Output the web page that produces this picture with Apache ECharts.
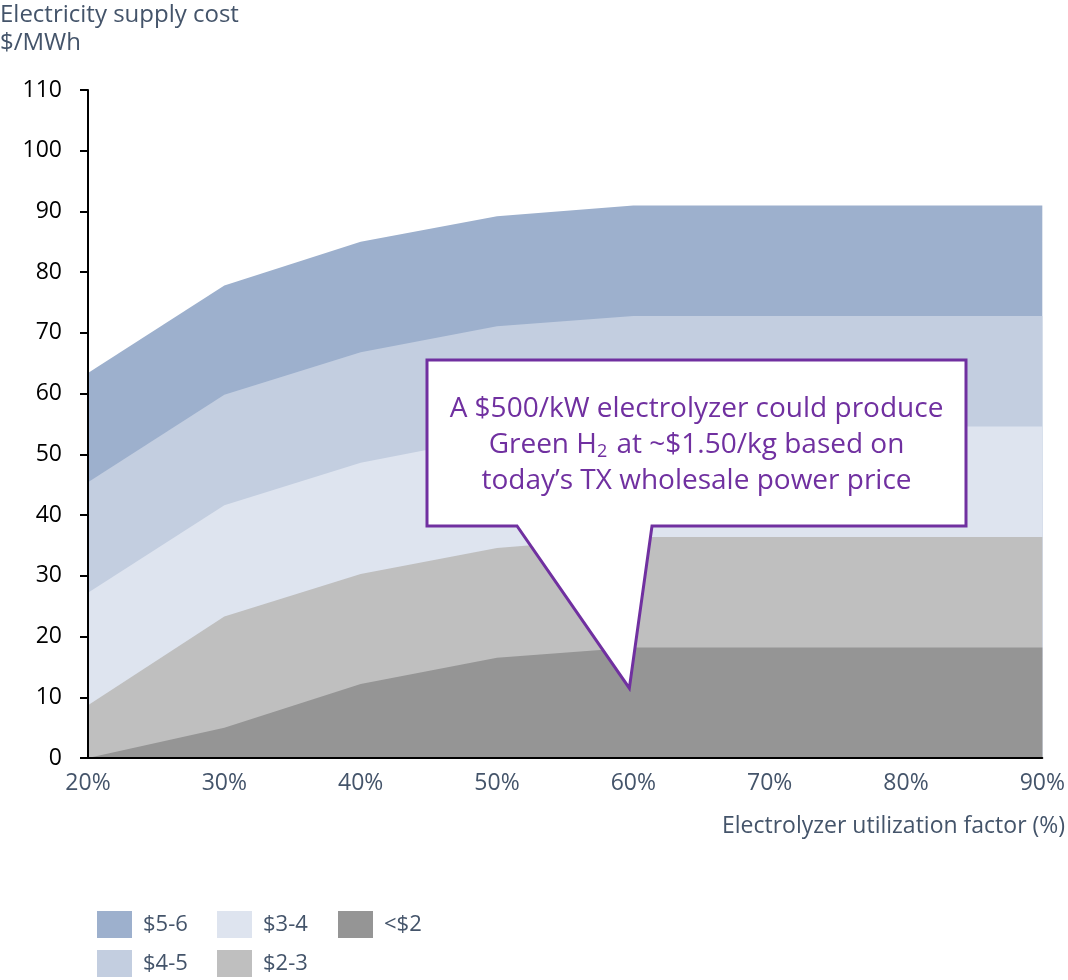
<!DOCTYPE html>
<html>
<head>
<meta charset="utf-8">
<script src="https://cdn.jsdelivr.net/npm/echarts@6/dist/echarts.min.js"></script>
<style>
  html, body { margin: 0; padding: 0; background: #fff; }
  #chart { width: 1068px; height: 980px; }
</style>
</head>
<body>
<div id="chart"></div>
<script>
// utilization factor categories
var xLabels = ['20%', '30%', '40%', '50%', '60%', '70%', '80%', '90%'];
// top edge of each cost band ($/MWh)
var band56 = [63.4, 77.8, 85.0, 89.2, 91.0, 91.0, 91.0, 91.0];
var band45 = [45.4, 59.8, 66.8, 71.1, 72.8, 72.8, 72.8, 72.8];
var band34 = [27.2, 41.6, 48.6, 53.0, 54.6, 54.6, 54.6, 54.6];
var band23 = [8.7, 23.3, 30.3, 34.6, 36.4, 36.4, 36.4, 36.4];
var bandLt2 = [0, 5.0, 12.2, 16.5, 18.2, 18.2, 18.2, 18.2];
var calloutTip = ['60%', 11.5];

var font = '"Open Sans", sans-serif';
var textGrey = '#44546A';
var purple = '#7030A0';

var myChart = echarts.init(document.getElementById('chart'));

function band(name, data, color) {
  return {
    name: name,
    type: 'line',
    data: data,
    symbol: 'none',
    itemStyle: { color: color },
    lineStyle: { width: 0, opacity: 0 },
    areaStyle: { color: color, opacity: 1, origin: 'start' },
    emphasis: { disabled: true }
  };
}

function legendCol(left, names) {
  return {
    orient: 'vertical',
    left: left,
    top: 911,
    padding: 0,
    icon: 'rect',
    itemWidth: 35,
    itemHeight: 27,
    itemGap: 12,
    selectedMode: false,
    textStyle: { fontFamily: font, fontSize: 22, color: textGrey, padding: [0, 0, 0, 6] },
    data: names
  };
}

myChart.setOption({
  animation: false,
  title: {
    text: 'Electricity supply cost\n$/MWh',
    left: 0,
    top: 1,
    padding: 0,
    textStyle: { fontFamily: font, fontSize: 24, fontWeight: 'normal', color: textGrey, lineHeight: 28 }
  },
  grid: { left: 88, right: 25, top: 90, bottom: 222, containLabel: false },
  legend: [
    legendCol(97, ['$5-6', '$4-5']),
    legendCol(217, ['$3-4', '$2-3']),
    legendCol(338, ['<$2'])
  ],
  xAxis: {
    type: 'category',
    boundaryGap: false,
    data: xLabels,
    axisLine: { lineStyle: { color: '#000', width: 2 } },
    axisTick: { show: false },
    axisLabel: { fontFamily: font, fontSize: 23, color: textGrey, margin: 14 },
    z: 5
  },
  yAxis: {
    type: 'value',
    min: 0,
    max: 110,
    interval: 10,
    splitLine: { show: false },
    axisLine: { show: true, lineStyle: { color: '#000', width: 2 } },
    axisTick: { show: true, length: 8, lineStyle: { color: '#000', width: 2 } },
    axisLabel: { fontFamily: font, fontSize: 23, color: '#000', margin: 26 },
    z: 5
  },
  series: [
    band('$5-6', band56, '#9DB0CD'),
    band('$4-5', band45, '#C3CEE0'),
    band('$3-4', band34, '#DEE4EF'),
    band('$2-3', band23, '#BFBFBF'),
    band('<$2', bandLt2, '#959595')
  ]
});

// callout box with a tail pointing at the 60% point
var tip = myChart.convertToPixel({ seriesIndex: 0 }, calloutTip);
var bx0 = 427, by0 = 360, bx1 = 966, by1 = 526;
myChart.setOption({
  graphic: [
    {
      type: 'polygon',
      z: 100,
      shape: {
        points: [[bx0, by0], [bx1, by0], [bx1, by1], [652, by1], [tip[0] - 4, tip[1]], [517, by1], [bx0, by1]]
      },
      style: { fill: '#fff', stroke: purple, lineWidth: 3, lineJoin: 'miter' }
    },
    {
      type: 'text',
      z: 101,
      x: (bx0 + bx1) / 2,
      y: 391,
      style: {
        text: 'A $500/kW electrolyzer could produce\nGreen H{sub|2} at ~$1.50/kg based on\ntoday\u2019s TX wholesale power price',
        align: 'center',
        fill: purple,
        font: '28px ' + font,
        lineHeight: 36,
        rich: {
          sub: { fontSize: 18, fill: purple, fontFamily: font, padding: [13, 2, 0, 0] }
        }
      }
    },
    {
      type: 'text',
      z: 101,
      x: 722,
      y: 815,
      style: {
        text: 'Electrolyzer utilization factor (%)',
        fill: textGrey,
        font: '23px ' + font
      }
    }
  ]
});
</script>
</body>
</html>
